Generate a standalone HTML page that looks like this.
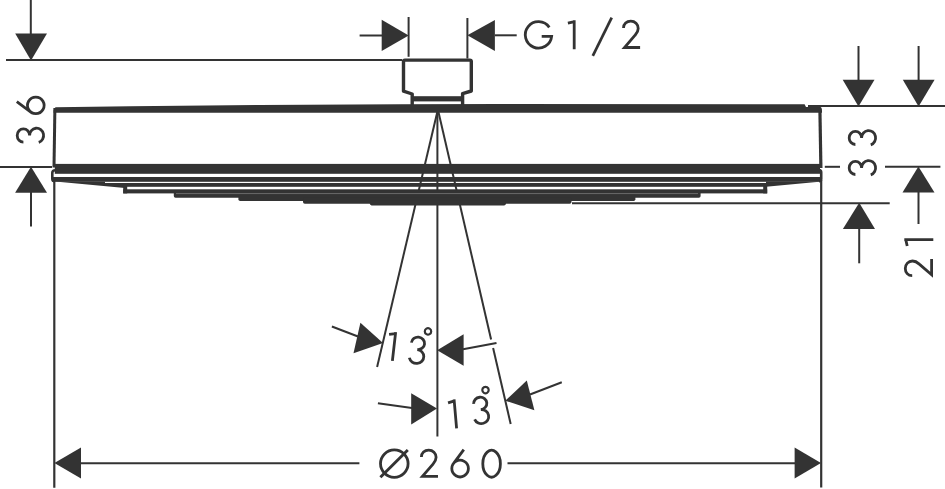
<!DOCTYPE html>
<html><head><meta charset="utf-8"><style>
html,body{margin:0;padding:0;background:#fff;}
svg{display:block;}
</style></head><body>
<svg width="945" height="489" viewBox="0 0 945 489">
<rect width="945" height="489" fill="#fff"/>
<g fill="#333" stroke="#333">
<line x1="30.8" y1="0" x2="30.8" y2="34" stroke-width="2.0" stroke-linecap="butt"/>
<polygon points="15.2,33.5 47,33.5 31,60.5" stroke="none"/>
<line x1="6" y1="60" x2="402" y2="60" stroke-width="2.0" stroke-linecap="butt"/>
<line x1="359.6" y1="35.5" x2="382" y2="35.5" stroke-width="2.0" stroke-linecap="butt"/>
<polygon points="381.7,19.7 381.7,51 408.7,35.5" stroke="none"/>
<line x1="408.6" y1="17" x2="408.6" y2="56.8" stroke-width="2.0" stroke-linecap="butt"/>
<line x1="467.4" y1="18" x2="467.4" y2="58.5" stroke-width="2.0" stroke-linecap="butt"/>
<polygon points="467.4,35.3 494.9,19.9 494.9,51" stroke="none"/>
<line x1="494.9" y1="35.3" x2="516.7" y2="35.3" stroke-width="2.0" stroke-linecap="butt"/>
<line x1="858.5" y1="46" x2="858.5" y2="80" stroke-width="2.0" stroke-linecap="butt"/>
<polygon points="842.7,79.7 874.5,79.7 858.5,106.5" stroke="none"/>
<line x1="918.6" y1="46" x2="918.6" y2="80" stroke-width="2.0" stroke-linecap="butt"/>
<polygon points="902.8000000000001,79.7 934.6,79.7 918.6,106.5" stroke="none"/>
<line x1="808" y1="106" x2="945" y2="106" stroke-width="2.0" stroke-linecap="butt"/>
<line x1="824.8" y1="166.8" x2="840" y2="166.8" stroke-width="2.0" stroke-linecap="butt"/>
<line x1="885" y1="166.8" x2="940.4" y2="166.8" stroke-width="2.0" stroke-linecap="butt"/>
<polygon points="902.5,192.6 934.5,192.6 918.4,166.6" stroke="none"/>
<line x1="918.5" y1="192" x2="918.5" y2="224" stroke-width="2.0" stroke-linecap="butt"/>
<line x1="572" y1="203.3" x2="889.7" y2="203.3" stroke-width="2.0" stroke-linecap="butt"/>
<polygon points="842.9,229 875,229 859.2,202.8" stroke="none"/>
<line x1="859.2" y1="228" x2="859.2" y2="263.3" stroke-width="2.0" stroke-linecap="butt"/>
<line x1="0" y1="166.9" x2="52" y2="166.9" stroke-width="2.0" stroke-linecap="butt"/>
<polygon points="15.1,192.7 47,192.7 31,166.7" stroke="none"/>
<line x1="31" y1="192" x2="31" y2="226.4" stroke-width="2.0" stroke-linecap="butt"/>
<line x1="54.3" y1="180" x2="54.3" y2="487.7" stroke-width="2.2" stroke-linecap="butt"/>
<line x1="821.2" y1="180" x2="821.2" y2="487.5" stroke-width="2.2" stroke-linecap="butt"/>
<line x1="80" y1="463.2" x2="359.4" y2="463.2" stroke-width="2.0" stroke-linecap="butt"/>
<line x1="507.5" y1="463.2" x2="796" y2="463.2" stroke-width="2.0" stroke-linecap="butt"/>
<polygon points="54.4,463 81,447.5 81,478.5" stroke="none"/>
<polygon points="821,463 794.6,447.5 794.6,478.5" stroke="none"/>
<line x1="437.4" y1="112" x2="437.4" y2="436.6" stroke-width="2.0" stroke-linecap="butt"/>
<line x1="437.3" y1="112" x2="377.11" y2="367" stroke-width="2.0" stroke-linecap="butt"/>
<line x1="438.45750000000004" y1="112" x2="491.1006" y2="339.4" stroke-width="2.0" stroke-linecap="butt"/>
<line x1="493.11465000000004" y1="348.1" x2="510.68550000000005" y2="424" stroke-width="2.0" stroke-linecap="butt"/>
<polygon points="360.4,322.8 353.5,353.2 383,343.1" stroke="none"/>
<line x1="331.9" y1="326.5" x2="358" y2="336.5" stroke-width="2.0" stroke-linecap="butt"/>
<polygon points="437.2,350.2 463.6,334.3 463.6,365.8" stroke="none"/>
<line x1="463" y1="349.2" x2="496.5" y2="343" stroke-width="2.0" stroke-linecap="butt"/>
<polygon points="437,408.4 411.2,393.3 411.2,424.4" stroke="none"/>
<line x1="377.9" y1="403.2" x2="412" y2="408" stroke-width="2.0" stroke-linecap="butt"/>
<polygon points="505.3,400.7 526.8,380.4 534.4,410.2" stroke="none"/>
<line x1="530" y1="394.5" x2="561.8" y2="382.3" stroke-width="2.0" stroke-linecap="butt"/>
<path d="M412.2 105 V94 L403.5 91.2 V61.6 Q403.5 60.1 405 60.1 H469.7 Q471.3 60.1 471.3 61.6 V91 L462.6 93.6 V105" fill="none" stroke-width="3.4" stroke-linejoin="round"/>
<rect x="411" y="96.2" width="52.8" height="5.2" stroke="none"/>
<polygon points="53.6,110 55.5,107.3 130,106.3 260,105.0 400,104.2 500,104.0 804.6,104.2 806,107 807.8,107 808.6,105.1 816.5,105.3 819.6,105.9 821.6,107.9 822,111 822,112.8 53.6,112.8" stroke="none"/>
<line x1="54.9" y1="108" x2="54.0" y2="167.6" stroke-width="3.0" stroke-linecap="butt"/>
<line x1="819.9" y1="109" x2="820.9" y2="168.0" stroke-width="3.2" stroke-linecap="butt"/>
<rect x="54.8" y="163.9" width="765.2" height="9.9" stroke="none"/>
<path d="M55.5 170.2 Q52.3 170.2 52.3 172.7 V179 Q52.3 181.2 55 181.2" fill="none" stroke-width="2.6"/>
<path d="M819 170.1 Q821.2 170.1 821.2 172.3 V179 Q821.2 181.1 819 181.1" fill="none" stroke-width="2.6"/>
<rect x="52.5" y="177.0" width="768.5" height="4.8" stroke="none"/>
<polygon points="52.5,181.2 105,181.7 105,183.0 125,183.0 125,188.0" stroke="none"/>
<polygon points="766,181.6 822,181.5 766,186.7" stroke="none"/>
<rect x="124" y="183.0" width="643" height="3.8" stroke="none"/>
<rect x="123.2" y="183.0" width="4.0" height="10.4" stroke="none"/>
<rect x="763.2" y="183.0" width="4.0" height="10.4" stroke="none"/>
<rect x="123.2" y="189.3" width="644.0" height="4.1" stroke="none"/>
<rect x="173.8" y="190.5" width="526.8" height="7.2" rx="1.8" stroke="none"/>
<rect x="238.4" y="194.5" width="397.0" height="6.5" rx="1.8" stroke="none"/>
<rect x="303" y="197.5" width="268.5" height="6.3" rx="1.8" stroke="none"/>
<rect x="369.8" y="200.5" width="136.2" height="4.9" rx="1.8" stroke="none"/>
<line x1="176" y1="193.6" x2="698" y2="193.6" stroke="#fff" stroke-opacity="0.35" stroke-width="0.8"/>
</g>
<g fill="none" stroke="#333" stroke-linecap="butt">
<path transform="translate(524.2 20.3) rotate(0)" d="M25.11 7.03 A13.2 13.2 0 1 0 27.43 15.98 H17.5" fill="none" stroke-width="2.8"/>
<path transform="translate(567.9 20.3) rotate(0)" d="M0 2.9 L6.6 1.4 M6.3 0 V29" fill="none" stroke-width="2.8"/>
<line x1="611.7" y1="17.6" x2="592.8" y2="55.8" stroke-width="2.7" stroke-linecap="butt"/>
<path transform="translate(621.9 19.9) rotate(0)" d="M1.6 8.2 C1.6 4 4.7 1.3 8.9 1.3 C13.1 1.3 16.3 4.4 16.3 8.5 C16.3 11.2 15.1 13.2 13.2 15.3 L2.6 27.6 H18.2" fill="none" stroke-width="2.8"/>
<ellipse cx="394.3" cy="463.6" rx="13.8" ry="13.7" stroke-width="2.8"/>
<line x1="380.4" y1="477.3" x2="407.8" y2="450.0" stroke-width="2.9" stroke-linecap="butt"/>
<path transform="translate(419.8 448.8) rotate(0)" d="M1.6 8.2 C1.6 4 4.7 1.3 8.9 1.3 C13.1 1.3 16.3 4.4 16.3 8.5 C16.3 11.2 15.1 13.2 13.2 15.3 L2.6 27.6 H18.2" fill="none" stroke-width="2.8"/>
<path transform="translate(450.2 448.8) rotate(0)" d="M13.6 0.8 L3.2 14.8 M18.2 19.8 A8.3 8.3 0 1 1 18.2 19.79 Z" fill="none" stroke-width="2.8"/>
<path transform="translate(481.2 448.8) rotate(0)" d="M19.2 14.9 A8.8 13.4 0 1 1 19.2 14.89 Z" fill="none" stroke-width="2.8"/>
<path transform="translate(847.8 176.6) rotate(-90)" d="M2.1 7.6 A6.6 6.2 0 1 1 8.7 13.8 A7.3 7.0 0 1 1 1.76 22.96" fill="none" stroke-width="2.8"/>
<path transform="translate(847.8 146.6) rotate(-90)" d="M2.1 7.6 A6.6 6.2 0 1 1 8.7 13.8 A7.3 7.0 0 1 1 1.76 22.96" fill="none" stroke-width="2.8"/>
<path transform="translate(904.0 277.3) rotate(-90)" d="M1.6 8.2 C1.6 4 4.7 1.3 8.9 1.3 C13.1 1.3 16.3 4.4 16.3 8.5 C16.3 11.2 15.1 13.2 13.2 15.3 L2.6 27.6 H18.2" fill="none" stroke-width="2.8"/>
<path transform="translate(904.3 246.0) rotate(-90)" d="M0 2.9 L6.6 1.4 M6.3 0 V29" fill="none" stroke-width="2.8"/>
<path transform="translate(15.8 144.2) rotate(-90)" d="M2.1 7.6 A6.6 6.2 0 1 1 8.7 13.8 A7.3 7.0 0 1 1 1.76 22.96" fill="none" stroke-width="2.8"/>
<path transform="translate(16.0 115.3) rotate(-90)" d="M13.6 0.8 L3.2 14.8 M18.2 19.8 A8.3 8.3 0 1 1 18.2 19.79 Z" fill="none" stroke-width="2.8"/>
<path transform="translate(389.4 331.4) rotate(6.5)" d="M0 2.9 L6.6 1.4 M6.3 0 V29" fill="none" stroke-width="2.8"/>
<path transform="translate(410.2 334.8) rotate(6.5)" d="M2.1 7.6 A6.6 6.2 0 1 1 8.7 13.8 A7.3 7.0 0 1 1 1.76 22.96" fill="none" stroke-width="2.8"/>
<path transform="translate(424.8 328.1) rotate(0)" d="M6.4 3.3 A3.2 3.2 0 1 1 6.4 3.29 Z" fill="none" stroke-width="2.2"/>
<path transform="translate(447.8 400.0) rotate(-5)" d="M0 2.9 L6.6 1.4 M6.3 0 V29" fill="none" stroke-width="2.8"/>
<path transform="translate(470.9 396.6) rotate(-5)" d="M2.1 7.6 A6.6 6.2 0 1 1 8.7 13.8 A7.3 7.0 0 1 1 1.76 22.96" fill="none" stroke-width="2.8"/>
<path transform="translate(482.3 386.8) rotate(0)" d="M6.4 3.3 A3.2 3.2 0 1 1 6.4 3.29 Z" fill="none" stroke-width="2.2"/>
</g>
</svg>
</body></html>
